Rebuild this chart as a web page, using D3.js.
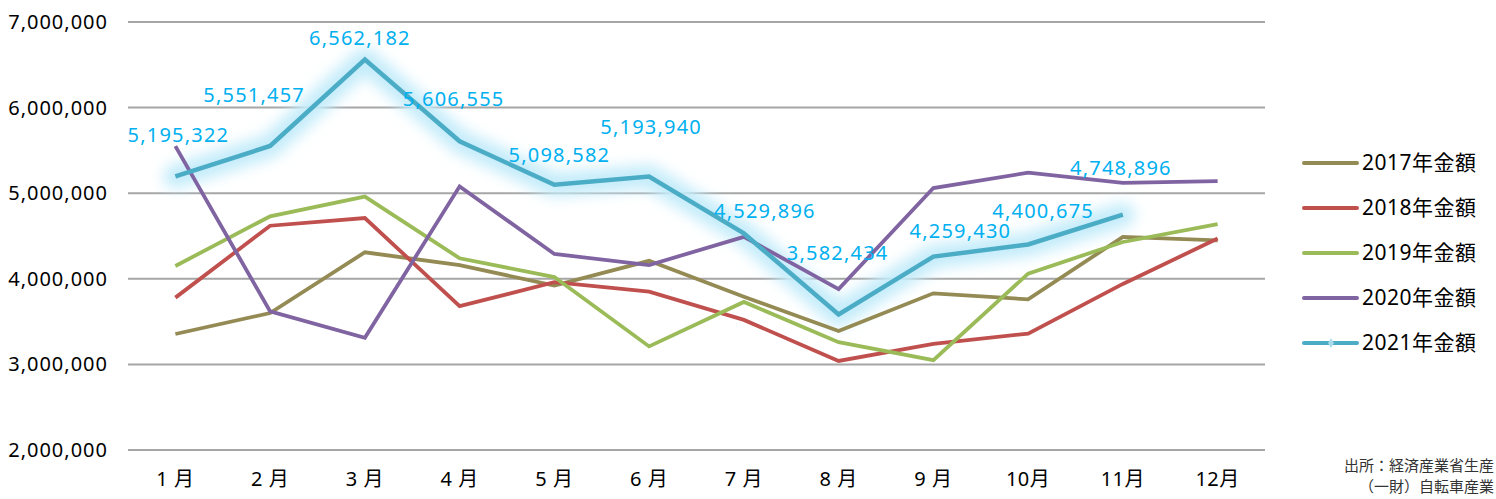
<!DOCTYPE html>
<html>
<head>
<meta charset="utf-8">
<script src="https://cdn.jsdelivr.net/npm/d3@7"></script>
<style>
  body { margin: 0; background: #fff; }
  text { font-family: "Noto Sans", "Noto Sans CJK JP", sans-serif; }
</style>
</head>
<body>
<div id="chart"></div>
<script>
const months = ["1 月", "2 月", "3 月", "4 月", "5 月", "6 月", "7 月", "8 月", "9 月", "10月", "11月", "12月"];
const yTicks = [2000000, 3000000, 4000000, 5000000, 6000000, 7000000];

const v2017 = [3355000, 3600000, 4310000, 4160000, 3920000, 4210000, 3790000, 3390000, 3830000, 3760000, 4490000, 4450000];
const v2018 = [3780000, 4620000, 4710000, 3680000, 3960000, 3850000, 3520000, 3040000, 3240000, 3360000, 3940000, 4470000];
const v2019 = [4150000, 4730000, 4960000, 4240000, 4020000, 3210000, 3730000, 3260000, 3050000, 4060000, 4430000, 4640000];
const v2020 = [5550000, 3620000, 3310000, 5080000, 4290000, 4160000, 4490000, 3880000, 5060000, 5240000, 5120000, 5140000];
const v2021 = [5195322, 5551457, 6562182, 5606555, 5098582, 5193940, 4529896, 3582434, 4259430, 4400675, 4748896];

const seriesNames = ["2017年金額", "2018年金額", "2019年金額", "2020年金額", "2021年金額"];
const seriesColors = ["#948A54", "#C0504D", "#9BBB59", "#8064A2", "#4BACC6"];

// manual nudges of the 2021 data labels (dx, dy from the point)
const labelNudge = [[3, -41], [-16, -51], [-5, -21], [-6, -42], [5, -30], [2, -50],
                    [21, -22], [-1, -62], [27, -26], [15, -34], [-2, -47]];

const sourceLines = ["出所：経済産業省生産", "（一財）自転車産業"];

function init() {
  const width = 1496, height = 499;
  const svg = d3.select("#chart").append("svg")
    .attr("width", width).attr("height", height);

  const defs = svg.append("defs");
  defs.append("filter").attr("id", "glow")
    .attr("x", "-10%").attr("y", "-30%").attr("width", "120%").attr("height", "160%")
    .append("feGaussianBlur").attr("stdDeviation", 7);

  const x = d3.scaleBand().domain(months).range([128, 1265]);
  const y = d3.scaleLinear().domain([2000000, 7000000]).range([450, 22]);
  const cx = d => x(d) + x.bandwidth() / 2;

  // gridlines
  svg.append("g").selectAll("line").data(yTicks).enter().append("line")
    .attr("x1", 128).attr("x2", 1265)
    .attr("y1", d => y(d)).attr("y2", d => y(d))
    .attr("stroke", "#a6a6a6").attr("stroke-width", 2);

  // y labels
  svg.append("g").selectAll("text").data(yTicks).enter().append("text")
    .attr("x", 108).attr("y", d => y(d)).attr("dy", "0.35em")
    .attr("text-anchor", "end").attr("font-size", 20).attr("letter-spacing", 1)
    .attr("fill", "#000").text(d => d3.format(",")(d));

  // x labels
  svg.append("g").selectAll("text").data(months).enter().append("text")
    .attr("x", d => cx(d)).attr("y", 479).attr("dy", "0.35em")
    .attr("text-anchor", "middle").attr("font-size", 20).attr("letter-spacing", 0.5)
    .attr("fill", "#000").text(d => d);

  const line = d3.line().x((d, i) => cx(months[i])).y(d => y(d));
  const all = [v2017, v2018, v2019, v2020, v2021];

  // glow under 2021
  svg.append("path").datum(v2021)
    .attr("d", line).attr("fill", "none")
    .attr("stroke", "#c4ecfa").attr("stroke-width", 24)
    .attr("stroke-linejoin", "round").attr("stroke-linecap", "round")
    .attr("filter", "url(#glow)");

  all.forEach((vals, k) => {
    svg.append("path").datum(vals)
      .attr("d", line).attr("fill", "none")
      .attr("stroke", seriesColors[k]).attr("stroke-width", k === 4 ? 4.5 : 3.8)
      .attr("stroke-linejoin", "miter");
  });

  // 2021 data labels
  svg.append("g").selectAll("text").data(v2021).enter().append("text")
    .attr("x", (d, i) => cx(months[i]) + labelNudge[i][0])
    .attr("y", (d, i) => y(d) + labelNudge[i][1]).attr("dy", "0.35em")
    .attr("text-anchor", "middle").attr("font-size", 20).attr("letter-spacing", 1.2)
    .attr("fill", "#00B0F0").text(d => d3.format(",")(d));

  // legend
  const leg = svg.append("g").selectAll("g").data(seriesNames).enter().append("g")
    .attr("transform", (d, i) => "translate(1304," + (163 + i * 45) + ")");
  leg.append("line").attr("x1", 0).attr("x2", 53)
    .attr("stroke", (d, i) => seriesColors[i]).attr("stroke-width", 4)
    .attr("stroke-linecap", "round");
  leg.filter((d, i) => i === 4).append("path")
    .attr("d", d3.symbol(d3.symbolDiamond, 30)).attr("transform", "translate(27,0)")
    .attr("fill", "#a8dcec");
  leg.append("text").attr("x", 58).attr("dy", "0.35em")
    .attr("font-size", 21).attr("letter-spacing", 0.5).attr("fill", "#000").text(d => d);

  // source note
  svg.append("g").selectAll("text").data(sourceLines).enter().append("text")
    .attr("x", 1494).attr("y", (d, i) => 466 + i * 21).attr("dy", "0.35em")
    .attr("text-anchor", "end").attr("font-size", 15).attr("fill", "#333")
    .text(d => d);
}

window.onload = init;
</script>
</body>
</html>
